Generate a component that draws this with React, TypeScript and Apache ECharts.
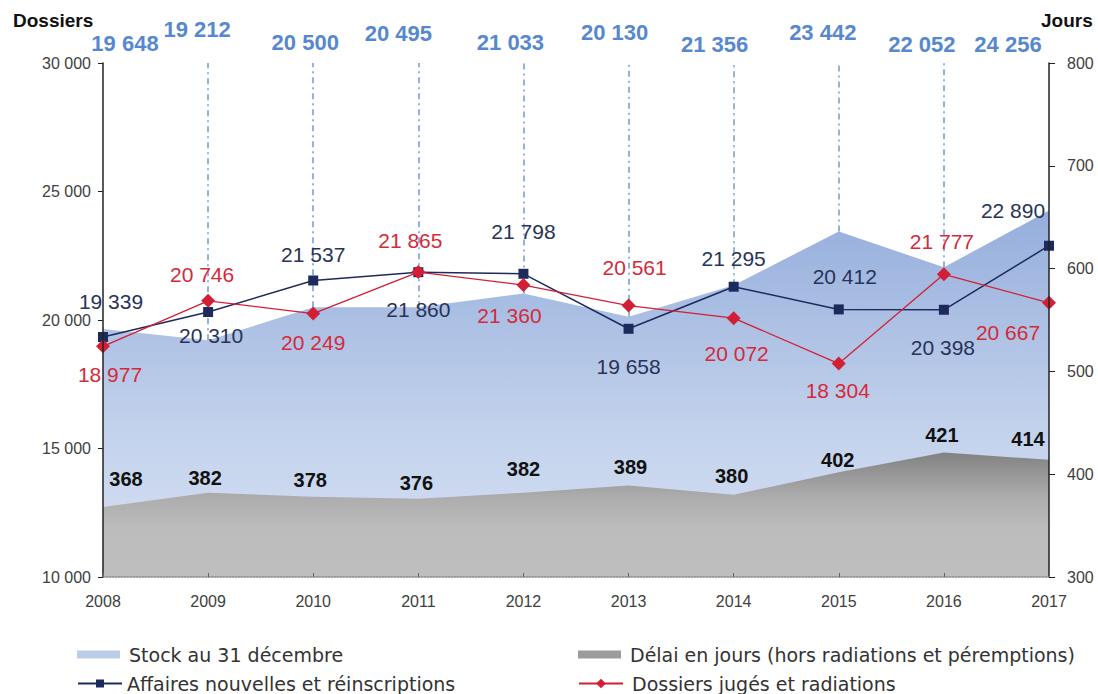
import React, { useEffect, useRef } from "react";
import * as echarts from "echarts";

const categories = ["2008", "2009", "2010", "2011", "2012", "2013", "2014", "2015", "2016", "2017"];
const stockValues = [19648, 19212, 20500, 20495, 21033, 20130, 21356, 23442, 22052, 24256];
const delaiValues = [368, 382, 378, 376, 382, 389, 380, 402, 421, 414];
const affairesValues = [19339, 20310, 21537, 21860, 21798, 19658, 21295, 20412, 20398, 22890];
const jugesValues = [18977, 20746, 20249, 21865, 21360, 20561, 20072, 18304, 21777, 20667];

const leftTicksMin = 10000;
const leftTicksMax = 30000;
const rightTicksMin = 300;
const rightTicksMax = 800;

// label placement (styles)
const stockLabelDx = [22, -11, -8, -20, -13, -14, -19, -16, -22, -41];
const stockLabelY = [43, 29, 42, 33, 42, 32, 44, 32, 44, 44];
const delaiLabelOffsets = [[23, -28], [-3, -15], [-3, -17], [-2, -16], [0, -24], [2, -19], [-2, -19], [-1, -12], [-2, -18], [-21, -21]];
const affairesLabelOffsets = [[8, -35], [3, 23], [0, -26], [0, 37], [0, -42], [0, 38], [0, -28], [6, -33], [-1, 38], [-36, -35]];
const jugesLabelOffsets = [[7, 28], [-6, -26], [0, 29], [-8, -32], [-14, 30], [6, -38], [3, 35], [-1, 27], [-2, -33], [-41, 30]];
const vLineIdx = [1, 2, 3, 4, 5, 6, 7, 8];

const NUM_FONT = "Liberation Sans, Arial, sans-serif";
const TXT_FONT = "DejaVu Sans, sans-serif";

const fmt = (v: number) => String(v).replace(/\B(?=(\d{3})+(?!\d))/g, " ");

export default function App() {
  const ref = useRef<HTMLDivElement>(null);

  useEffect(() => {
    if (!ref.current) return;
    const chart = echarts.init(ref.current, null, { renderer: "svg" });
    const legendText = { fontFamily: TXT_FONT, fontSize: 19, color: "#333", padding: [0, 0, 0, 4] };

    const option: any = {
      animation: false,
      grid: { left: 103, right: 49, top: 63, bottom: 117 },
      legend: [
        {
          data: [{ name: "Stock au 31 décembre", icon: "rect", itemStyle: { color: "#bccdea" } }],
          left: 77, top: 645, padding: 0, itemWidth: 43, itemHeight: 8,
          textStyle: legendText,
        },
        {
          data: [{ name: "Délai en jours (hors radiations et péremptions)", icon: "rect", itemStyle: { color: "#9c9c9c" } }],
          left: 578, top: 645, padding: 0, itemWidth: 43, itemHeight: 8,
          textStyle: legendText,
        },
        {
          data: ["Affaires nouvelles et réinscriptions"],
          left: 77, top: 674, padding: 0, itemWidth: 44, itemHeight: 10,
          textStyle: { ...legendText, padding: 0 },
        },
        {
          data: ["Dossiers jugés et radiations"],
          left: 578, top: 674, padding: 0, itemWidth: 44, itemHeight: 12,
          textStyle: legendText,
        },
      ],
      xAxis: {
        type: "category",
        data: categories,
        boundaryGap: false,
        axisLine: { show: true, lineStyle: { color: "#8a8a8a", width: 1.5, type: "dotted" } },
        axisTick: { show: true, inside: true, length: 4, lineStyle: { color: "#666" } },
        axisLabel: { fontFamily: NUM_FONT, fontSize: 16, color: "#404040", margin: 16 },
        splitLine: { show: false },
        z: 10,
      },
      yAxis: [
        {
          type: "value",
          min: leftTicksMin,
          max: leftTicksMax,
          interval: 5000,
          position: "left",
          axisLine: { show: true, lineStyle: { color: "#222", width: 1.5 } },
          axisTick: { show: true, length: 5, lineStyle: { color: "#222" } },
          axisLabel: { fontFamily: NUM_FONT, fontSize: 16, color: "#404040", margin: 12, formatter: (v: number) => fmt(v) },
          splitLine: { show: false },
          z: 10,
        },
        {
          type: "value",
          min: rightTicksMin,
          max: rightTicksMax,
          interval: 100,
          position: "right",
          axisLine: { show: true, lineStyle: { color: "#222", width: 1.5 } },
          axisTick: { show: true, length: 6, lineStyle: { color: "#222" } },
          axisLabel: { fontFamily: NUM_FONT, fontSize: 16, color: "#404040", margin: 18 },
          splitLine: { show: false },
          z: 10,
        },
      ],
      series: [
        {
          name: "Stock au 31 décembre",
          type: "line",
          yAxisIndex: 0,
          data: stockValues,
          symbol: "none",
          lineStyle: { width: 0 },
          itemStyle: { color: "#bccdea" },
          areaStyle: {
            opacity: 1,
            color: new echarts.graphic.LinearGradient(0, 0, 0, 1, [
              { offset: 0, color: "#95aedc" },
              { offset: 0.6, color: "#c3d2ec" },
              { offset: 1, color: "#d6e1f3" },
            ]),
          },
          markLine: {
            silent: true,
            symbol: ["none", "none"],
            label: { show: false },
            lineStyle: { color: "#6e9bd8", width: 1.5, type: [6, 4, 2, 4] },
            data: vLineIdx.map((i) => [
              { coord: [categories[i], stockValues[i]] },
              { coord: [categories[i], leftTicksMax] },
            ]),
          },
          z: 1,
        },
        {
          name: "Délai en jours (hors radiations et péremptions)",
          type: "line",
          yAxisIndex: 1,
          data: delaiValues.map((v, i) => ({
            value: v,
            label: { offset: delaiLabelOffsets[i] },
          })),
          symbol: "circle",
          symbolSize: 0.1,
          showSymbol: true,
          itemStyle: { color: "rgba(0,0,0,0)" },
          lineStyle: { width: 0 },
          areaStyle: {
            opacity: 1,
            color: new echarts.graphic.LinearGradient(0, 0, 0, 1, [
              { offset: 0, color: "#828282" },
              { offset: 0.35, color: "#acacac" },
              { offset: 0.6, color: "#bcbcbc" },
              { offset: 1, color: "#bebebe" },
            ]),
          },
          label: {
            show: true,
            position: "inside",
            color: "#111",
            fontFamily: NUM_FONT,
            fontSize: 20,
            fontWeight: "bold",
            textBorderWidth: 0,
          },
          z: 2,
        },
        {
          name: "Affaires nouvelles et réinscriptions",
          type: "line",
          yAxisIndex: 0,
          data: affairesValues.map((v, i) => ({
            value: v,
            label: { offset: affairesLabelOffsets[i] },
          })),
          symbol: "rect",
          symbolSize: 10,
          itemStyle: { color: "#1d2a5c" },
          lineStyle: { color: "#1d2a5c", width: 1.5 },
          label: {
            show: true,
            position: "inside",
            color: "#283358",
            fontFamily: NUM_FONT,
            fontSize: 21,
            textBorderWidth: 0,
            formatter: (p: any) => fmt(p.value),
          },
          z: 5,
        },
        {
          name: "Dossiers jugés et radiations",
          type: "line",
          yAxisIndex: 0,
          data: jugesValues.map((v, i) => ({
            value: v,
            label: { offset: jugesLabelOffsets[i] },
          })),
          symbol: "diamond",
          symbolSize: 14,
          itemStyle: { color: "#d21f35" },
          lineStyle: { color: "#d21f35", width: 1.3 },
          label: {
            show: true,
            position: "inside",
            color: "#d42a3a",
            fontFamily: NUM_FONT,
            fontSize: 21,
            textBorderWidth: 0,
            formatter: (p: any) => fmt(p.value),
          },
          z: 6,
        },
      ],
    };

    chart.setOption(option);

    const stockLabels = stockValues.map((v, i) => {
      const x = chart.convertToPixel({ xAxisIndex: 0 }, categories[i]) as number;
      return {
        type: "text",
        x: x + stockLabelDx[i],
        y: stockLabelY[i],
        silent: true,
        style: {
          text: fmt(v),
          align: "center",
          verticalAlign: "middle",
          fontFamily: NUM_FONT,
          fontSize: 22,
          fontWeight: "bold",
          fill: "#5788cf",
        },
      };
    });

    chart.setOption({
      graphic: [
        {
          type: "text",
          left: 13,
          top: 11,
          style: { text: "Dossiers", fontFamily: NUM_FONT, fontSize: 19, fontWeight: "bold", fill: "#111" },
        },
        {
          type: "text",
          left: 1041,
          top: 11,
          style: { text: "Jours", fontFamily: NUM_FONT, fontSize: 19, fontWeight: "bold", fill: "#111" },
        },
        ...stockLabels,
      ],
    });

    return () => chart.dispose();
  }, []);

  return (
    <div
      ref={ref}
      style={{ position: "fixed", left: 0, top: 0, width: 1098, height: 694, background: "#fff" }}
    />
  );
}
